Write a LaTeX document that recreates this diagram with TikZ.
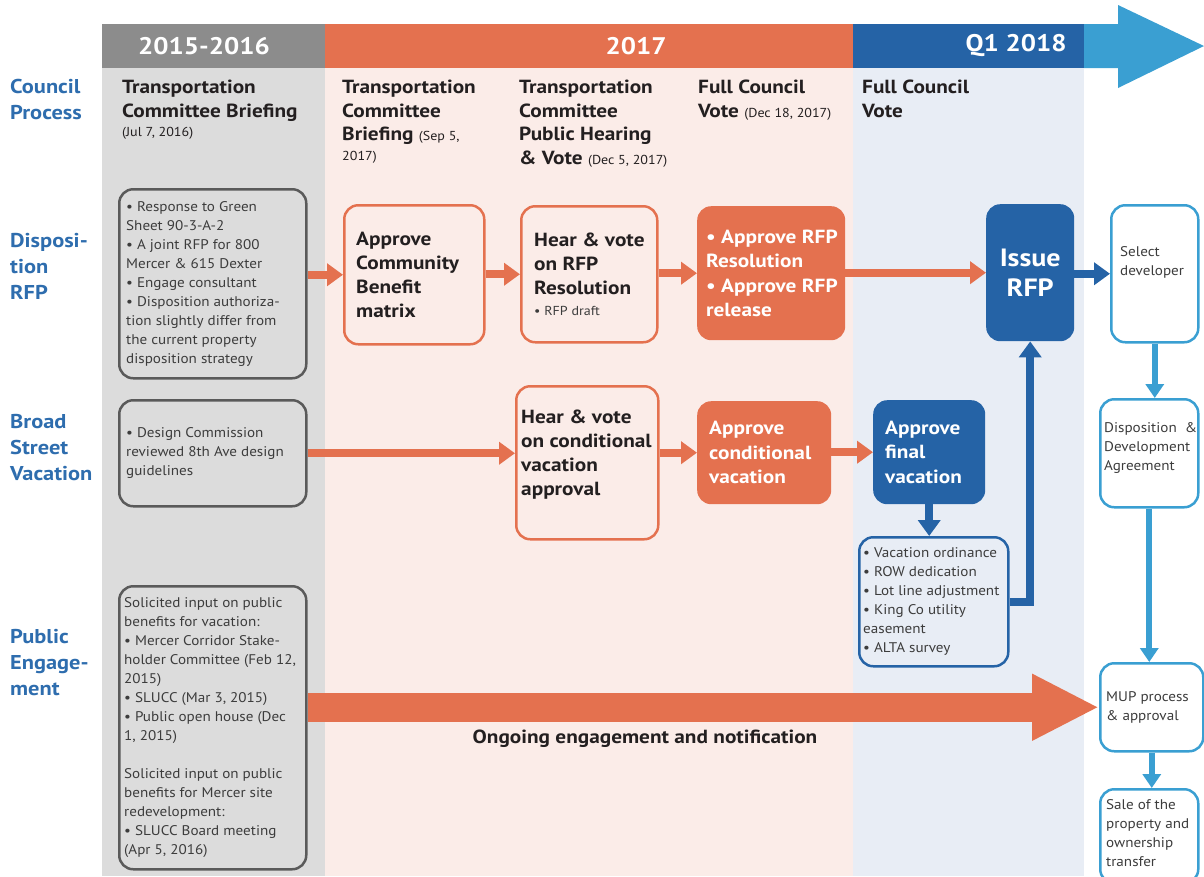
\documentclass[tikz,border=0pt]{standalone}
\usepackage{fontspec}
\setmainfont{PT Sans}[UprightFeatures={FakeStretch=1.08}, BoldFeatures={FakeStretch=1.12}]
\usetikzlibrary{arrows.meta}
\definecolor{orng}{HTML}{E4714F}
\definecolor{dblue}{HTML}{2563A6}
\definecolor{lblue}{HTML}{3A9FD2}
\definecolor{rowblue}{HTML}{2E6DAE}
\definecolor{graybg}{HTML}{DCDCDC}
\definecolor{pinkbg}{HTML}{FBECE8}
\definecolor{bluebg}{HTML}{E8EDF5}
\definecolor{grayhd}{HTML}{8C8C8C}
\definecolor{gborder}{HTML}{5A5A5A}
\definecolor{txt}{HTML}{231F20}
\definecolor{smalltxt}{HTML}{3C3C3C}
\newcommand{\dt}[1]{{\mdseries\fontsize{13}{16}\selectfont #1}}
\begin{document}
\begin{tikzpicture}[x=1pt,y=-1pt,
  every node/.style={inner sep=0pt, text=txt},
  rowlbl/.style={anchor=north west, align=left, text=rowblue, font=\fontsize{20}{26}\selectfont\bfseries},
  colhd/.style={anchor=north west, align=left, font=\fontsize{19}{23.5}\selectfont\bfseries},
  hdtxt/.style={text=white, font=\fontsize{24}{24}\selectfont\bfseries},
  bx/.style={anchor=north west, rounded corners=14pt},
  gbox/.style={bx, draw=gborder, line width=2.5pt, fill=graybg},
  obox/.style={bx, draw=orng, line width=2.5pt, fill=pinkbg},
  ofill/.style={bx, fill=orng},
  bfill/.style={bx, fill=dblue},
  lbox/.style={bx, draw=lblue, line width=2.5pt, fill=white},
  blist/.style={bx, draw=dblue, line width=2.5pt, fill=bluebg},
  stxt/.style={anchor=west, align=left, text=smalltxt, font=\fontsize{14}{19}\selectfont},
  btxt/.style={anchor=west, align=left, font=\fontsize{19}{24}\selectfont\bfseries},
  wtxt/.style={anchor=west, align=left, text=white, font=\fontsize{19}{24.5}\selectfont\bfseries},
  oarr/.style={draw=orng, line width=8pt, -{Triangle[length=16pt,width=22pt]}},
  barr/.style={draw=dblue, line width=8pt, -{Triangle[length=16pt,width=22pt]}},
  larr/.style={draw=lblue, line width=6pt, -{Triangle[length=14pt,width=18pt]}}
]
\useasboundingbox (0,0) rectangle (1204,876);
% column backgrounds
\fill[graybg] (102,68) rectangle (325,876);
\fill[pinkbg] (325,68) rectangle (853,876);
\fill[bluebg] (853,68) rectangle (1084,876);
% header bar
\fill[grayhd] (102,24) rectangle (325,68);
\fill[orng] (325,24) rectangle (853,68);
\fill[dblue] (853,24) rectangle (1084,68);
\fill[lblue] (1084,24) -- (1118,24) -- (1118,5) -- (1204,46) -- (1118,88) -- (1118,68) -- (1084,68) -- cycle;
\node[hdtxt] (y1) at (204,46) {2015-2016};
\node[hdtxt] (y2) at (636,46) {2017};
\node[hdtxt] (y3) at (1016,46) {Q1 2018};
% row labels
\node[rowlbl] (r1) at (10,79) {Council\\Process};
\node[rowlbl] (r2) at (10,233) {Disposi-\\tion\\RFP};
\node[rowlbl] (r3) at (10,414) {Broad\\Street\\Vacation};
\node[rowlbl] (r4) at (10,629) {Public\\Engage-\\ment};
% column headers
\node[colhd] (h1) at (122,80) {Transportation\\Committee Briefing\\[-4pt]\dt{(Jul 7, 2016)}};
\node[colhd] (h2) at (342,80) {Transportation\\Committee\\Briefing \dt{(Sep 5,}\\[-4pt]\dt{2017)}};
\node[colhd] (h3) at (519,80) {Transportation\\Committee\\Public Hearing\\\& Vote \dt{(Dec 5, 2017)}};
\node[colhd] (h4) at (698,80) {Full Council\\Vote \dt{(Dec 18, 2017)}};
\node[colhd] (h5) at (862,80) {Full Council\\Vote};
% Disposition RFP row
\node[gbox, minimum width=187pt, minimum height=189pt] (g1) at (118,188) {};
\node[stxt] (g1t) at ([xshift=8pt]g1.west) {• Response to Green\\Sheet 90-3-A-2\\• A joint RFP for 800\\Mercer \& 615 Dexter\\• Engage consultant\\• Disposition authoriza-\\tion slightly differ from\\the current property\\disposition strategy};
\node[obox, minimum width=140pt, minimum height=139pt] (cb) at (343,204) {};
\node[btxt] (cbt) at ([xshift=13pt]cb.west) {Approve\\Community\\Benefit\\matrix};
\node[obox, minimum width=136pt, minimum height=136pt] (hr) at (520,205) {};
\node[btxt] (hrt) at ([xshift=14pt]hr.west) {Hear \& vote\\on RFP\\Resolution\\[-3pt]{\normalfont\fontsize{13}{16}\selectfont\color{smalltxt}• RFP draft}};
\node[ofill, minimum width=148pt, minimum height=134pt] (ar) at (697,206) {};
\node[wtxt] (art) at ([xshift=9pt]ar.west) {• Approve RFP\\Resolution\\• Approve RFP\\release};
\node[bfill, minimum width=88pt, minimum height=137pt] (ir) at (986,204) {};
\node[align=center, text=white, font=\fontsize{25}{30}\selectfont\bfseries] (irt) at (ir.center) {Issue\\RFP};
\node[lbox, minimum width=87pt, minimum height=137pt] (sd) at (1110,204) {};
\node[stxt] (sdt) at ([xshift=10pt,yshift=11pt]sd.west) {Select\\developer};
% Broad Street Vacation row
\node[gbox, minimum width=187pt, minimum height=106pt] (g2) at (118,399) {};
\node[stxt] (g2t) at ([xshift=8pt]g2.west) {• Design Commission\\reviewed 8th Ave design\\guidelines};
\node[obox, minimum width=142pt, minimum height=153pt] (hc) at (515,385) {};
\node[btxt] (hct) at ([xshift=6pt,yshift=8pt]hc.west) {Hear \& vote\\on conditional\\vacation\\approval};
\node[ofill, minimum width=134pt, minimum height=103pt] (ac) at (697,401) {};
\node[wtxt] (act) at ([xshift=12pt]ac.west) {Approve\\conditional\\vacation};
\node[bfill, minimum width=112pt, minimum height=104pt] (af) at (873,400) {};
\node[wtxt] (aft) at ([xshift=12pt]af.west) {Approve\\final\\vacation};
\node[blist, minimum width=149pt, minimum height=129pt] (lst) at (858,536) {};
\node[stxt] (lstt) at ([xshift=5pt]lst.west) {• Vacation ordinance\\• ROW dedication\\• Lot line adjustment\\• King Co utility\\easement\\• ALTA survey};
\node[lbox, minimum width=98pt, minimum height=108pt] (dd) at (1099,398) {};
\node[stxt] (ddt) at ([xshift=5pt,yshift=5pt]dd.west) {Disposition \ \&\\Development\\Agreement};
% Public Engagement row
\node[gbox, minimum width=187pt, minimum height=283pt] (g3) at (118,585) {};
\node[stxt] (g3t) at ([xshift=6pt]g3.west) {Solicited input on public\\benefits for vacation:\\• Mercer Corridor Stake-\\holder Committee (Feb 12,\\2015)\\• SLUCC (Mar 3, 2015)\\• Public open house (Dec\\1, 2015)\\\mbox{}\\Solicited input on public\\benefits for Mercer site\\redevelopment:\\• SLUCC Board meeting\\(Apr 5, 2016)};
\node[lbox, minimum width=103pt, minimum height=88pt] (mup) at (1099,662) {};
\node[stxt] (mupt) at ([xshift=7pt]mup.west) {MUP process\\\& approval};
\node[lbox, minimum width=98pt, minimum height=94pt] (sale) at (1099,788) {};
\node[stxt] (salet) at ([xshift=7pt,yshift=3pt]sale.west) {Sale of the\\property and\\ownership\\transfer};
\node[font=\fontsize{19}{20}\selectfont\bfseries] (ong) at (645,739) {Ongoing engagement and notification};
% connectors
\draw[oarr] (g1.east |- cb.west) -- (cb.west);
\draw[oarr] (cb.east |- hr.west) -- (hr.west);
\draw[oarr] (hr.east |- ar.west) -- (ar.west);
\draw[oarr] (ar.east |- ir.west) -- (ir.west);
\draw[barr] (ir.east |- sd.west) -- (sd.west);
\draw[oarr] (g2.east) -- (g2.east -| hc.west);
\draw[oarr] (hc.east |- ac.west) -- (ac.west);
\draw[oarr] (ac.east |- af.west) -- (af.west);
\draw[barr] (af.south) -- (af.south |- lst.north);
\draw[barr] (lst.east) -| (ir.south);
\draw[larr] (sd.south) -- (sd.south |- dd.north);
\draw[larr] (dd.south) -- (dd.south |- mup.north);
\draw[larr] (mup.south) -- (mup.south |- sale.north);
\draw[draw=orng, line width=29pt, -{Triangle[length=67pt,width=62pt]}] (g3.east |- mup.west) -- (mup.west);
\end{tikzpicture}
\end{document}
